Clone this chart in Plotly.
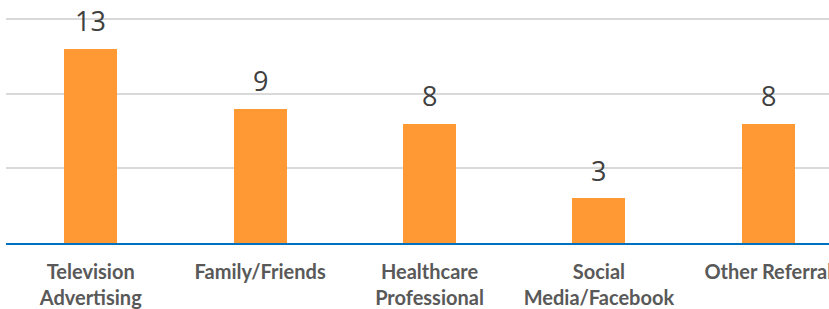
import plotly.graph_objects as go

categories = ["Television<br>Advertising", "Family/Friends", "Healthcare<br>Professional",
              "Social<br>Media/Facebook", "Other Referral"]
values = [13, 9, 8, 3, 8]
y_ticks = [0, 5, 10, 15]

xpos = list(range(len(categories)))

fig = go.Figure()
fig.add_trace(go.Bar(
    x=xpos, y=values, width=0.313,
    marker=dict(color="#FF9933", line=dict(width=0)),
    hoverinfo="skip",
))

for xi, v in zip(xpos, values):
    fig.add_annotation(x=xi, y=v, text=str(v), showarrow=False,
                       yanchor="middle", yshift=28,
                       font=dict(family="Open Sans", size=27, color="#404040"))

fig.update_layout(
    width=829, height=309,
    margin=dict(l=6, r=0, t=0, b=66, autoexpand=False),
    paper_bgcolor="white", plot_bgcolor="white",
    showlegend=False,
    bargap=0,
    xaxis=dict(
        range=[-0.5, -0.5 + 823 / 169.4],
        tickmode="array", tickvals=xpos, ticktext=categories,
        showgrid=False, zeroline=False,
        showline=True, linecolor="#0070C0", linewidth=2,
        ticks="", ticklen=0, ticklabelstandoff=10,
        automargin=False, ticklabeloverflow="allow",
        tickfont=dict(family="Lato", size=20, color="#595959", weight="bold"),
    ),
    yaxis=dict(
        range=[0, 243.5 / 14.96],
        tickvals=y_ticks, showticklabels=False,
        showgrid=True, gridcolor="#D9D9D9", gridwidth=2,
        zeroline=False, showline=False, ticks="",
    ),
)

fig.write_html("out.html",
               config={"displayModeBar": False, "staticPlot": True},
               post_script="document.body.style.margin='0';document.body.style.padding='0';")
